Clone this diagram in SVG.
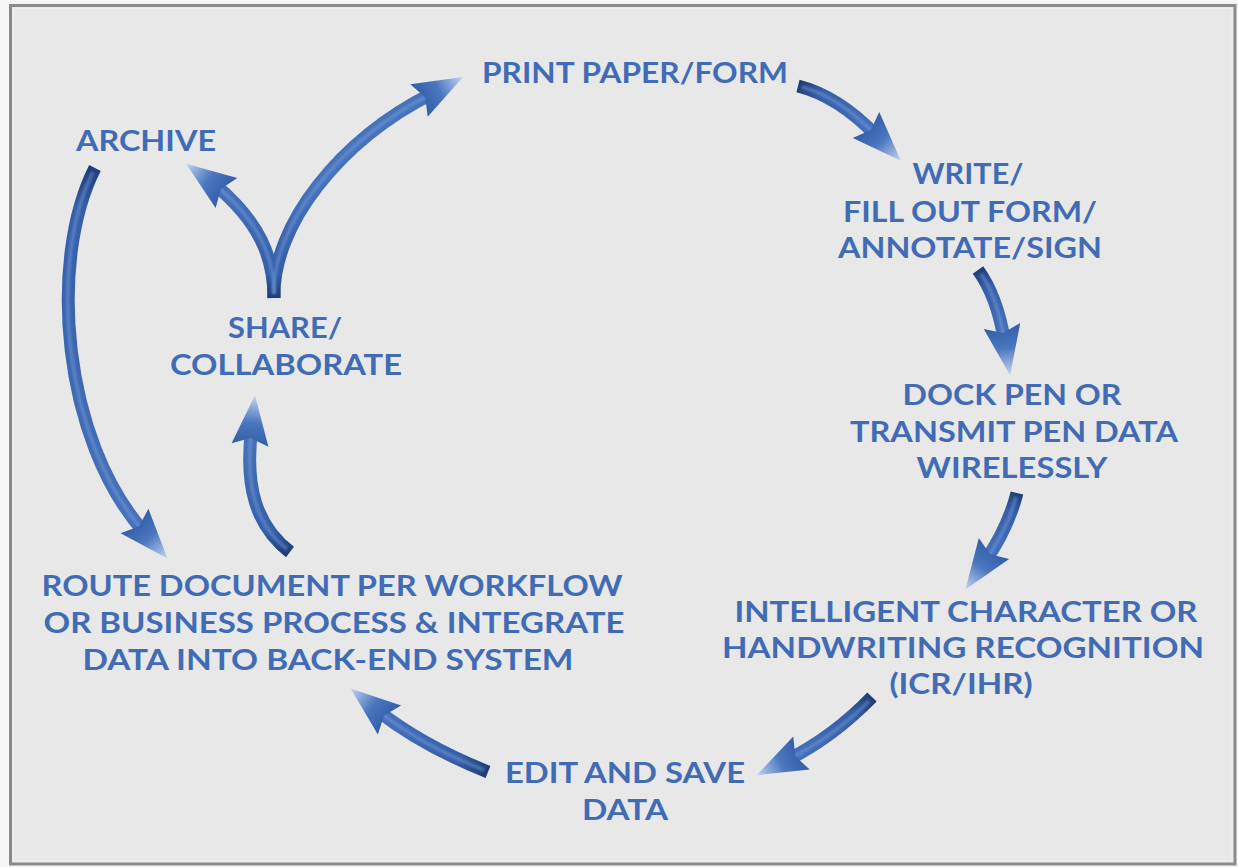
<svg xmlns="http://www.w3.org/2000/svg" xmlns:xlink="http://www.w3.org/1999/xlink" width="1238" height="867" viewBox="0 0 1238 867">
  <style>
    .lbl { font-family: Lato, "Liberation Sans", "DejaVu Sans", sans-serif; font-weight: 700; font-size: 28px; fill: #416cb5; text-anchor: middle; }
    .shaft { fill: none; stroke-width: 13; stroke-linecap: butt; }
    .shine { fill: none; stroke: #7ea3de; stroke-width: 3.5; stroke-opacity: 0.45; stroke-linecap: butt; filter: url(#soft); }
    .head { fill: url(#headGrad); }
  </style>
  <defs>
    <filter id="soft" x="-20%" y="-20%" width="140%" height="140%">
      <feGaussianBlur stdDeviation="1.1"/>
    </filter>
    <!-- arrowhead drawn along +x, base at x=0, tip at x=50 -->
    <linearGradient id="headGrad" x1="0" y1="0" x2="1" y2="0">
      <stop offset="0" stop-color="#335da7"/>
      <stop offset="0.45" stop-color="#4a77c0"/>
      <stop offset="1" stop-color="#c6d5f0"/>
    </linearGradient>
    <path id="head" d="M50,0 L0,-18.5 L7,0 L0,18.5 Z"/>
    <!-- shaft gradients: dark tail to mid blue near the head -->
    <linearGradient id="gA" gradientUnits="userSpaceOnUse" x1="798" y1="86" x2="876" y2="136">
      <stop offset="0" stop-color="#1f3c78"/><stop offset="0.25" stop-color="#345ea8"/><stop offset="1" stop-color="#4672bc"/>
    </linearGradient>
    <linearGradient id="gB" gradientUnits="userSpaceOnUse" x1="978" y1="270" x2="1004" y2="341">
      <stop offset="0" stop-color="#1f3c78"/><stop offset="0.25" stop-color="#345ea8"/><stop offset="1" stop-color="#4672bc"/>
    </linearGradient>
    <linearGradient id="gC" gradientUnits="userSpaceOnUse" x1="1017" y1="493" x2="985" y2="561">
      <stop offset="0" stop-color="#1f3c78"/><stop offset="0.25" stop-color="#345ea8"/><stop offset="1" stop-color="#4672bc"/>
    </linearGradient>
    <linearGradient id="gD" gradientUnits="userSpaceOnUse" x1="872" y1="697" x2="788" y2="760">
      <stop offset="0" stop-color="#1f3c78"/><stop offset="0.25" stop-color="#345ea8"/><stop offset="1" stop-color="#4672bc"/>
    </linearGradient>
    <linearGradient id="gE" gradientUnits="userSpaceOnUse" x1="488" y1="772" x2="378" y2="711">
      <stop offset="0" stop-color="#1f3c78"/><stop offset="0.25" stop-color="#345ea8"/><stop offset="1" stop-color="#4672bc"/>
    </linearGradient>
    <linearGradient id="gF" gradientUnits="userSpaceOnUse" x1="290" y1="552" x2="251" y2="430">
      <stop offset="0" stop-color="#1f3c78"/><stop offset="0.2" stop-color="#345ea8"/><stop offset="1" stop-color="#4672bc"/>
    </linearGradient>
    <linearGradient id="gG" gradientUnits="userSpaceOnUse" x1="95" y1="168" x2="144" y2="532">
      <stop offset="0" stop-color="#1f3c78"/><stop offset="0.1" stop-color="#345ea8"/><stop offset="1" stop-color="#4672bc"/>
    </linearGradient>
    <linearGradient id="gY" gradientUnits="userSpaceOnUse" x1="274" y1="298" x2="274" y2="180">
      <stop offset="0" stop-color="#1f3c78"/><stop offset="0.2" stop-color="#345ea8"/><stop offset="1" stop-color="#4672bc"/>
    </linearGradient>
  </defs>

  <!-- page and frame -->
  <rect x="0" y="0" width="1238" height="867" fill="#f5f5f5"/>
  <rect x="10.5" y="5.5" width="1224.5" height="858.5" fill="#e8e8e8" stroke="#8a8a8a" stroke-width="3"/>
  <rect x="13.5" y="8.5" width="1218.5" height="852.5" fill="none" stroke="#f0f0f0" stroke-width="1"/>

  <g id="connectors">
    <!-- print -> write -->
    <g id="c-print-write">
      <path class="shaft" stroke="url(#gA)" d="M798,86 Q838,96 876.5,135.8"/>
      <path class="shine" d="M802,87 Q838,96 876.5,135.8"/>
      <use class="head" href="#head" xlink:href="#head" transform="translate(866,125) rotate(45.8)"/>
    </g>
    <!-- write -> dock -->
    <g id="c-write-dock">
      <path class="shaft" stroke="url(#gB)" d="M978,270 Q997,296 1004.4,340.8"/>
      <path class="shine" d="M981,274 Q997,296 1004.4,340.8"/>
      <use class="head" href="#head" xlink:href="#head" transform="translate(1002,326) rotate(80.7)"/>
    </g>
    <!-- dock -> recognition -->
    <g id="c-dock-icr">
      <path class="shaft" stroke="url(#gC)" d="M1017,493 Q1008,528 985.4,560.8"/>
      <path class="shine" d="M1016,497 Q1008,528 985.4,560.8"/>
      <use class="head" href="#head" xlink:href="#head" transform="translate(994,548.5) rotate(124.9)"/>
    </g>
    <!-- recognition -> edit -->
    <g id="c-icr-edit">
      <path class="shaft" stroke="url(#gD)" d="M872,697 Q833,737 788,759.6"/>
      <path class="shine" d="M869,701 Q833,737 788,759.6"/>
      <use class="head" href="#head" xlink:href="#head" transform="translate(801.5,753) rotate(153.7)"/>
    </g>
    <!-- edit -> route -->
    <g id="c-edit-route">
      <path class="shaft" stroke="url(#gE)" d="M488,772 Q421,745 377.8,710.6"/>
      <path class="shine" d="M484,770 Q421,745 377.8,710.6"/>
      <use class="head" href="#head" xlink:href="#head" transform="translate(389.5,720) rotate(219)"/>
    </g>
    <!-- route -> share -->
    <g id="c-route-share">
      <path class="shaft" stroke="url(#gF)" d="M290,552 C255,525 245,485 251.5,430"/>
      <path class="shine" d="M287,549 C255,525 245,485 251.5,430"/>
      <use class="head" href="#head" xlink:href="#head" transform="translate(250,445) rotate(-84.3)"/>
    </g>
    <!-- archive -> route -->
    <g id="c-archive-route">
      <path class="shaft" stroke="url(#gG)" d="M95,168 C48,260 62,440 144.4,532.3"/>
      <path class="shine" d="M93,172 C48,260 62,440 144.4,532.3"/>
      <use class="head" href="#head" xlink:href="#head" transform="translate(134.5,521) rotate(48.7)"/>
    </g>
    <!-- share splits to archive and print -->
    <g id="c-share-split">
      <path class="shaft" stroke="url(#gY)" d="M274,298 C274,258 260,222 214.4,184.2"/>
      <path class="shaft" stroke="url(#gY)" d="M274,298 C272,225 340,140 432.2,93.4"/>
      <path class="shine" d="M274,294 C274,258 260,222 214.4,184.2"/>
      <path class="shine" d="M274,294 C272,225 340,140 432.2,93.4"/>
      <use class="head" href="#head" xlink:href="#head" transform="translate(226.5,193) rotate(-144.1)"/>
      <use class="head" href="#head" xlink:href="#head" transform="translate(419,100.5) rotate(-28.1)"/>
    </g>
  </g>

  <g id="node-print">
    <text class="lbl" x="635" y="83" textLength="306" lengthAdjust="spacingAndGlyphs">PRINT PAPER/FORM</text>
  </g>
  <g id="node-write">
    <text class="lbl" x="968" y="184" textLength="111" lengthAdjust="spacingAndGlyphs">WRITE/</text>
    <text class="lbl" x="970" y="222" textLength="254" lengthAdjust="spacingAndGlyphs">FILL OUT FORM/</text>
    <text class="lbl" x="970" y="258" textLength="264" lengthAdjust="spacingAndGlyphs">ANNOTATE/SIGN</text>
  </g>
  <g id="node-dock">
    <text class="lbl" x="1012" y="405" textLength="219" lengthAdjust="spacingAndGlyphs">DOCK PEN OR</text>
    <text class="lbl" x="1014" y="442" textLength="328" lengthAdjust="spacingAndGlyphs">TRANSMIT PEN DATA</text>
    <text class="lbl" x="1012" y="478" textLength="191" lengthAdjust="spacingAndGlyphs">WIRELESSLY</text>
  </g>
  <g id="node-icr">
    <text class="lbl" x="966" y="622" textLength="463" lengthAdjust="spacingAndGlyphs">INTELLIGENT CHARACTER OR</text>
    <text class="lbl" x="963" y="658" textLength="482" lengthAdjust="spacingAndGlyphs">HANDWRITING RECOGNITION</text>
    <text class="lbl" x="961" y="694" textLength="143" lengthAdjust="spacingAndGlyphs">(ICR/IHR)</text>
  </g>
  <g id="node-edit">
    <text class="lbl" x="625" y="783" textLength="240" lengthAdjust="spacingAndGlyphs">EDIT AND SAVE</text>
    <text class="lbl" x="625" y="820" textLength="86" lengthAdjust="spacingAndGlyphs">DATA</text>
  </g>
  <g id="node-route">
    <text class="lbl" x="332" y="596" textLength="581" lengthAdjust="spacingAndGlyphs">ROUTE DOCUMENT PER WORKFLOW</text>
    <text class="lbl" x="334" y="633" textLength="581" lengthAdjust="spacingAndGlyphs">OR BUSINESS PROCESS &amp; INTEGRATE</text>
    <text class="lbl" x="328" y="670" textLength="491" lengthAdjust="spacingAndGlyphs">DATA INTO BACK-END SYSTEM</text>
  </g>
  <g id="node-share">
    <text class="lbl" x="285" y="338" textLength="114" lengthAdjust="spacingAndGlyphs">SHARE/</text>
    <text class="lbl" x="286" y="375" textLength="232" lengthAdjust="spacingAndGlyphs">COLLABORATE</text>
  </g>
  <g id="node-archive">
    <text class="lbl" x="146" y="151" textLength="140" lengthAdjust="spacingAndGlyphs">ARCHIVE</text>
  </g>
</svg>
